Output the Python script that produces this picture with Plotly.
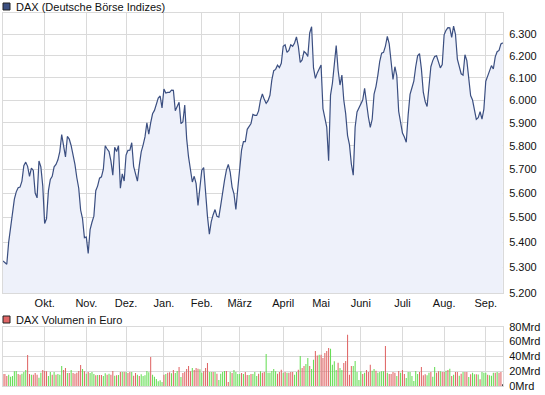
import math
import plotly.graph_objects as go

# ---------------- data ----------------
# DAX daily closes, trading days from 1 Sep 2009 to 14 Sep 2010
close = [
    5325, 5320, 5312, 5400, 5455, 5500, 5575, 5605, 5622, 5625,
    5650, 5715, 5730, 5712, 5670, 5705, 5695, 5600, 5580, 5735,
    5710, 5630, 5475, 5495, 5610, 5657, 5670, 5710, 5720, 5740,
    5775, 5848, 5790, 5752, 5840, 5829, 5800, 5762, 5720, 5664,
    5620, 5530, 5495, 5418, 5420, 5355, 5450, 5480, 5505, 5610,
    5630, 5662, 5668, 5700, 5800, 5786, 5775, 5735, 5675, 5793,
    5775, 5800, 5620, 5680, 5650, 5760, 5780, 5781, 5813, 5712,
    5675, 5650, 5716, 5774, 5803, 5838, 5899, 5850, 5899, 5939,
    5954, 5978, 6009, 6018, 5965, 6049, 6031, 6034, 6034, 6044,
    6043, 5953, 5969, 5990, 5896, 5903, 5978, 5832, 5752, 5694,
    5646, 5670, 5639, 5549, 5632, 5696, 5707, 5597, 5504, 5432,
    5483, 5511, 5532, 5504, 5501, 5549, 5611, 5653, 5696, 5720,
    5688, 5625, 5597, 5532, 5618, 5710, 5781, 5818, 5818, 5871,
    5882, 5896, 5936, 5932, 5932, 5952, 6000, 6027, 6003, 5985,
    5997, 6021, 6090, 6132, 6138, 6157, 6146, 6166, 6244, 6251,
    6216, 6225, 6251, 6244, 6259, 6288, 6244, 6170, 6181, 6220,
    6212, 6197, 6306, 6335, 6146, 6097, 6122, 6138, 6158, 5962,
    5928, 5881, 5736, 6022, 6075, 6181, 6247, 6135, 6067, 6112,
    6000, 5940, 5844, 5805, 5722, 5675, 5881, 5947, 5967, 5982,
    6000, 6052, 5977, 5925, 5880, 5915, 6027, 6060, 6112, 6175,
    6212, 6216, 6245, 6290, 6255, 6170, 6092, 6150, 6110, 5950,
    5910, 5855, 5838, 5815, 5934, 6025, 6055, 6085, 6150, 6200,
    6210, 6140, 6035, 5993, 5971, 6050, 6150, 6178, 6197, 6200,
    6170, 6145, 6160, 6297, 6318, 6331, 6330, 6285, 6338, 6300,
    6185, 6145, 6118, 6112, 6205, 6178, 6085, 6020, 6000, 5955,
    5915, 5922, 5948, 5916, 5960, 6084, 6105, 6135, 6155, 6140,
    6195, 6219, 6225, 6255, 6260,
]

# daily turnover in billion euro (Mrd)
volume_mrd = [
    16.2, 16.2, 13.5, 15.3, 12.6, 13.5, 19.8, 20.2, 16.2, 15.3,
    16.6, 18.9, 21.6, 41.8, 16.2, 15.3, 15.3, 17.5, 15.3, 11.2,
    18.0, 21.6, 20.2, 19.8, 13.5, 18.9, 15.3, 18.9, 15.3, 16.2,
    15.3, 27.0, 21.6, 24.3, 17.5, 17.5, 21.6, 17.5, 16.6, 18.0,
    20.2, 28.3, 22.9, 19.8, 16.6, 18.9, 17.5, 18.9, 16.2, 14.4,
    14.8, 14.8, 14.8, 13.5, 17.1, 15.3, 16.6, 15.3, 20.2, 13.9,
    14.4, 14.8, 18.9, 18.9, 18.9, 18.9, 17.5, 18.9, 18.9, 13.9,
    17.5, 15.3, 13.5, 15.7, 13.5, 14.4, 20.2, 18.4, 39.1, 15.3,
    12.6, 9.4, 6.3, 7.6, 5.4, 15.3, 16.2, 18.0, 18.4, 17.1,
    21.6, 17.5, 20.2, 25.6, 12.1, 17.5, 18.9, 22.9, 27.0, 19.8,
    24.3, 21.6, 24.3, 23.4, 22.5, 18.0, 19.8, 24.3, 31.0, 18.9,
    18.9, 18.9, 18.9, 16.6, 8.1, 16.6, 18.9, 20.2, 20.2, 5.4,
    18.9, 17.5, 21.6, 18.9, 16.2, 16.2, 17.5, 16.2, 18.9, 14.8,
    14.8, 16.2, 16.2, 18.9, 13.5, 16.6, 19.8, 18.0, 18.9, 43.1,
    18.0, 18.0, 20.2, 22.9, 19.8, 16.6, 18.9, 22.0, 18.0, 18.9,
    18.0, 18.0, 18.9, 18.9, 15.3, 18.9, 22.0, 40.4, 24.3, 27.0,
    29.7, 37.8, 27.0, 22.9, 35.5, 47.2, 41.3, 42.2, 42.0, 37.8,
    44.5, 47.2, 51.2, 50.3, 28.8, 33.3, 21.6, 31.5, 24.3, 21.6,
    31.0, 33.7, 69.2, 15.3, 27.0, 27.0, 33.7, 18.9, 8.1, 19.8,
    16.2, 18.0, 21.6, 18.9, 28.8, 20.7, 22.9, 20.7, 18.0, 18.9,
    19.8, 19.8, 53.9, 18.0, 16.2, 16.2, 18.9, 18.0, 13.5, 20.2,
    18.0, 21.6, 16.2, 10.8, 18.9, 18.9, 13.5, 6.7, 20.2, 16.2,
    18.9, 25.6, 14.4, 15.7, 14.4, 18.0, 18.9, 12.6, 25.6, 18.0,
    19.8, 19.8, 18.9, 18.9, 20.7, 21.6, 23.4, 13.5, 15.3, 18.9,
    18.9, 13.9, 16.6, 18.9, 18.9, 18.9, 12.1, 15.7, 18.0, 15.7,
    16.0, 15.5, 9.0, 18.9, 18.0, 18.0, 15.3, 14.4, 13.9, 18.0,
    18.0, 18.9, 18.0, 18.9, 2.2,
]

# bar colour per day as shown in the picture: r = red, g = green
volume_colour_codes = (
    "rrrgggggrr" "gggrrgrrrg" "grrrggrgrg" "ggrrgrgrrr"
    "rrgrgrgggr" "grrggrgrrg" "rgrgrgrrgr" "rgrgggggrg"
    "gggggrgrrg" "rggrgrrrrr" "grrrggrrrg" "grgrggggrr"
    "grggggrgrr" "grgggrgrrg" "gggggrrrgr" "grrrggrgrr"
    "ggrggrrgrr" "rrrggggrgg" "rrrrrggggg" "rgrrrggrgg"
    "ggrgrrrrgr" "grrggggggg" "rrrrggrggr" "rgrrgrgrgr"
    "rgrgrrgrgg" "rgrgggrggg" "rgr" "r"
)

month_tick_idx = [22, 44, 65, 85, 105, 125, 148, 168, 189, 211, 233, 255]
month_labels = ["Okt.", "Nov.", "Dez.", "Jan.", "Feb.", "März",
                "April", "Mai", "Juni", "Juli", "Aug.", "Sep."]

price_ticks = [5200, 5300, 5400, 5500, 5600, 5700, 5800, 5900, 6000, 6100, 6200, 6300]
price_tick_labels = ["5.200", "5.300", "5.400", "5.500", "5.600", "5.700",
                     "5.800", "5.900", "6.000", "6.100", "6.200", "6.300"]
price_range = [5200, 6400]

vol_ticks = [0, 20, 40, 60, 80]
vol_tick_labels = ["0Mrd", "20Mrd", "40Mrd", "60Mrd", "80Mrd"]
vol_range = [0, 80]

# ---------------- styling ----------------
LINE = "#3b4f81"
FILL = "#eef1fa"
GRID = "#dadada"
RED = "#e06666"
GREEN = "#66dd55"
FONT = "Liberation Sans, Arial, sans-serif"

W, H = 545, 395
ML, MR, MT, MB = 3, 42, 13, 9
PW, PH = W - ML - MR, H - MT - MB


def px_x(x):
    return (x - ML) / PW


def px_y(y):
    return (H - MB - y) / PH


days = list(range(len(close)))
colour_map = {"r": RED, "g": GREEN}
bar_colours = [colour_map[c] for c in volume_colour_codes[:len(volume_mrd)]]

fig = go.Figure()
fig.add_trace(go.Scatter(
    x=days, y=close, mode="lines",
    line=dict(color=LINE, width=1.2),
    fill="tozeroy", fillcolor=FILL,
    xaxis="x", yaxis="y", hoverinfo="skip", showlegend=False,
))
fig.add_trace(go.Bar(
    x=days, y=volume_mrd, marker=dict(color=bar_colours, line=dict(width=0)),
    xaxis="x2", yaxis="y2", hoverinfo="skip", showlegend=False,
))

main_bottom = px_y(293)
vol_top = px_y(326.7)

common_x = dict(
    range=[0, len(close) - 0.9],
    tickmode="array", tickvals=month_tick_idx,
    showgrid=True, gridcolor=GRID, gridwidth=1,
    showline=True, linecolor=GRID, linewidth=1, mirror=True,
    zeroline=False, ticks="",
)

fig.update_layout(
    width=W, height=H,
    margin=dict(l=ML, r=MR, t=MT, b=MB),
    paper_bgcolor="white", plot_bgcolor="white",
    font=dict(family=FONT, size=11, color="#111111"),
    showlegend=False,
    bargap=0.45,
    xaxis=dict(domain=[0, 1], anchor="y", ticktext=month_labels,
               tickfont=dict(size=11, color="#111111"), **common_x),
    yaxis=dict(domain=[main_bottom, 1], anchor="x", side="right",
               type="log",
               range=[math.log10(price_range[0]), math.log10(price_range[1])],
               tickmode="array", tickvals=price_ticks, ticktext=price_tick_labels,
               showgrid=True, gridcolor=GRID, gridwidth=1,
               showline=True, linecolor=GRID, mirror=True,
               zeroline=False, ticks="", ticklabelstandoff=3,
               tickfont=dict(size=11, color="#111111")),
    xaxis2=dict(domain=[0, 1], anchor="y2", showticklabels=False, **common_x),
    yaxis2=dict(domain=[0, vol_top], anchor="x2", side="right",
                range=vol_range,
                tickmode="array", tickvals=vol_ticks, ticktext=vol_tick_labels,
                showgrid=True, gridcolor=GRID, gridwidth=1,
                showline=True, linecolor=GRID, mirror=True,
                zeroline=False, ticks="", ticklabelstandoff=3,
                tickfont=dict(size=11, color="#111111")),
)

# legend-style captions
fig.add_shape(type="rect", xref="paper", yref="paper",
              x0=px_x(3), x1=px_x(10), y0=px_y(10), y1=px_y(3),
              fillcolor=LINE, line=dict(color="#222222", width=1))
fig.add_annotation(xref="paper", yref="paper", x=px_x(14), y=px_y(6.5),
                   xanchor="left", yanchor="middle", showarrow=False,
                   text="DAX (Deutsche Börse Indizes)",
                   font=dict(size=11, color="#111111", family=FONT))
fig.add_shape(type="rect", xref="paper", yref="paper",
              x0=px_x(3), x1=px_x(10), y0=px_y(323), y1=px_y(316),
              fillcolor=RED, line=dict(color="#222222", width=1))
fig.add_annotation(xref="paper", yref="paper", x=px_x(14), y=px_y(319.5),
                   xanchor="left", yanchor="middle", showarrow=False,
                   text="DAX Volumen in Euro",
                   font=dict(size=11, color="#111111", family=FONT))

fig.write_html(
    "out.html",
    config={"displayModeBar": False, "staticPlot": True},
    post_script="document.body.style.margin='0';document.body.style.padding='0';",
)
